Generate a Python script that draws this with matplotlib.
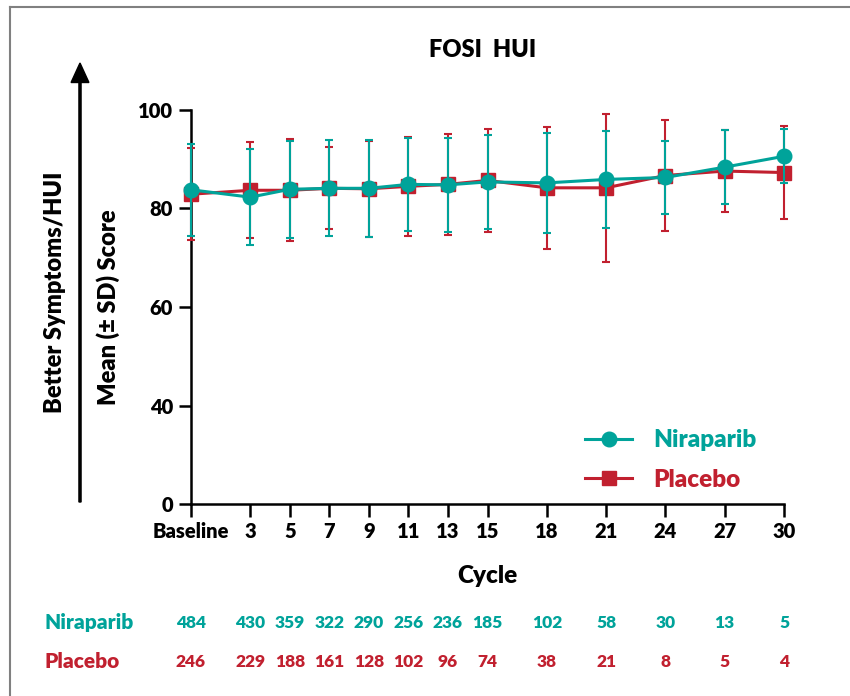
import matplotlib
matplotlib.use("Agg")
import matplotlib.pyplot as plt
import matplotlib.transforms as mtransforms
import numpy as np
from matplotlib.lines import Line2D
from matplotlib.patches import FancyArrow

plt.rcParams['font.family'] = ['Lato', 'DejaVu Sans']
WEIGHT = 'heavy'

# Visit data (cycle 0 = Baseline)
cycles = [0, 3, 5, 7, 9, 11, 13, 15, 18, 21, 24, 27, 30]
tick_labels = ["Baseline", "3", "5", "7", "9", "11", "13", "15", "18", "21", "24", "27", "30"]

nira_mean = [83.8, 82.3, 83.9, 84.1, 84.1, 84.9, 84.8, 85.4, 85.2, 85.9, 86.3, 88.4, 90.6]
nira_sd = [9.35, 9.75, 9.9, 9.75, 9.8, 9.4, 9.5, 9.5, 10.1, 9.9, 7.35, 7.55, 5.5]
plac_mean = [82.9, 83.7, 83.7, 84.1, 84.0, 84.5, 84.9, 85.7, 84.2, 84.2, 86.7, 87.6, 87.3]
plac_sd = [9.3, 9.75, 10.35, 8.3, 9.7, 10.1, 10.3, 10.5, 12.4, 15.0, 11.3, 8.4, 9.45]

nira_n = [484, 430, 359, 322, 290, 256, 236, 185, 102, 58, 30, 13, 5]
plac_n = [246, 229, 188, 161, 128, 102, 96, 74, 38, 21, 8, 5, 4]

TEAL = "#00A39A"
RED = "#C1202F"

W, H = 850, 696
fig = plt.figure(figsize=(W / 100, H / 100), dpi=100)
ax = fig.add_axes([191 / W, 1 - 504 / H, (784 - 191) / W, (504 - 110) / H])


# Y axis is compressed below 40 (0-40 takes the space of 20 units)
def fwd(y):
    y = np.asarray(y, dtype=float)
    return np.where(y >= 40, y, 20 + y / 2)


def inv(v):
    v = np.asarray(v, dtype=float)
    return np.where(v >= 40, v, (v - 20) * 2)


ax.set_yscale('function', functions=(fwd, inv))
ax.set_ylim(0, 100)
ax.set_xlim(0, 30)

# Placebo underneath, Niraparib on top
ax.errorbar(cycles, plac_mean, yerr=plac_sd, color=RED, lw=2.2, marker='s', ms=9.8,
            elinewidth=1.5, capsize=3, capthick=1.5, clip_on=False, zorder=3)
ax.errorbar(cycles, nira_mean, yerr=nira_sd, color=TEAL, lw=2.2, marker='o', ms=10.5,
            elinewidth=1.5, capsize=3, capthick=1.5, clip_on=False, zorder=4)

for s in ['top', 'right']:
    ax.spines[s].set_visible(False)
for s in ['left', 'bottom']:
    ax.spines[s].set_linewidth(1.8)

ax.set_xticks(cycles)
ax.set_xticklabels(tick_labels)
ax.set_yticks([0, 40, 60, 80, 100])
ax.set_yticklabels(["0", "40", "60", "80", "100"])
ax.tick_params(axis='both', length=9, width=1.8, labelsize=14.5, pad=4)
for lbl in ax.get_xticklabels() + ax.get_yticklabels():
    lbl.set_fontweight(WEIGHT)

ax.set_xlabel("Cycle", fontsize=17.5, fontweight=WEIGHT, labelpad=17)
ax.set_ylabel("Mean (± SD) Score", fontsize=17, fontweight=WEIGHT, labelpad=13)

fig.text(483 / W, 1 - 50 / H, "FOSI  HUI", ha='center', va='center',
         fontsize=17, fontweight=WEIGHT)

# Direction arrow with its caption
fig.add_artist(FancyArrow(80 / W, 1 - 502 / H, 0, (502 - 63) / H, width=0.0025,
                          head_width=0.021, head_length=0.028,
                          length_includes_head=True, color='black',
                          transform=fig.transFigure))
fig.text(55 / W, 1 - 292 / H, "Better Symptoms/HUI", rotation=90, ha='center',
         va='center', fontsize=17, fontweight=WEIGHT)

# Legend
handles = [Line2D([], [], color=TEAL, lw=2.2, marker='o', ms=10.5),
           Line2D([], [], color=RED, lw=2.2, marker='s', ms=9.8)]
leg = fig.legend(handles, ["Niraparib", "Placebo"], loc='center left',
                 bbox_to_anchor=(585 / W, 1 - 460 / H), frameon=False,
                 handlelength=1.95, handletextpad=0.85, borderpad=0, borderaxespad=0,
                 labelspacing=0.7, prop={'weight': WEIGHT, 'size': 17.5})
for txt, c in zip(leg.get_texts(), [TEAL, RED]):
    txt.set_color(c)

# Patients at risk
trans = mtransforms.blended_transform_factory(ax.transData, fig.transFigure)
fig.text(44 / W, 1 - 623 / H, "Niraparib", color=TEAL, fontsize=15,
         fontweight=WEIGHT, va='center', ha='left')
fig.text(44 / W, 1 - 662 / H, "Placebo", color=RED, fontsize=15,
         fontweight=WEIGHT, va='center', ha='left')
for x, a, b in zip(cycles, nira_n, plac_n):
    ax.text(x, 1 - 623 / H, str(a), transform=trans, color=TEAL, fontsize=12.5,
            fontweight=WEIGHT, ha='center', va='center')
    ax.text(x, 1 - 662 / H, str(b), transform=trans, color=RED, fontsize=12.5,
            fontweight=WEIGHT, ha='center', va='center')

# Page frame
fig.add_artist(Line2D([10 / W, 1], [1 - 7 / H, 1 - 7 / H], color='#808080', lw=1.5,
                      transform=fig.transFigure))
fig.add_artist(Line2D([10 / W, 10 / W], [0, 1 - 7 / H], color='#808080', lw=1.5,
                      transform=fig.transFigure))

fig.savefig("out.png", dpi=100)
